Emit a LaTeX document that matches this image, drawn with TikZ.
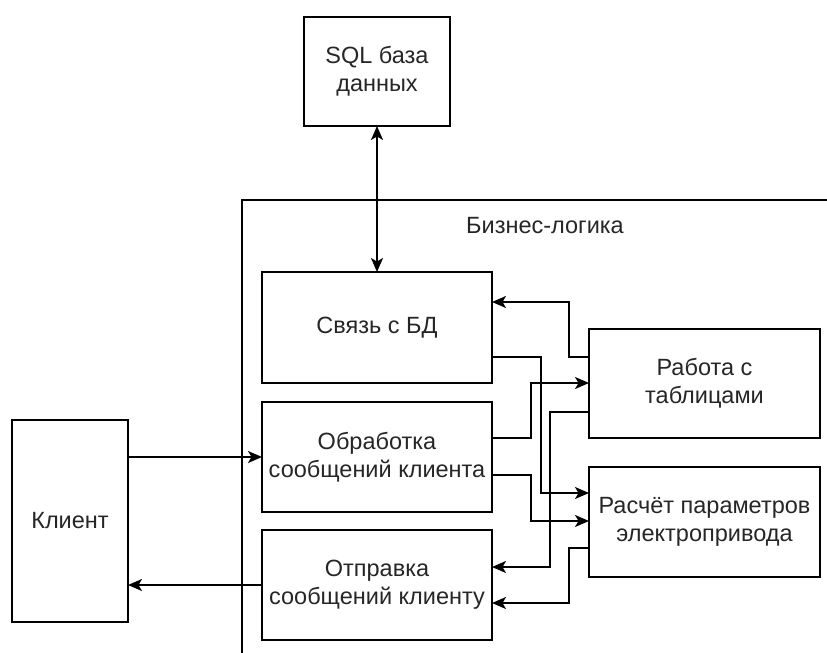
\documentclass[tikz,border=0pt]{standalone}
\usepackage{fontspec}
\setmainfont{Liberation Sans}
\usetikzlibrary{arrows.meta}
\begin{document}
\begin{tikzpicture}[x=1pt,y=-1pt,
  line width=1.6pt,
  every node/.style={font=\fontsize{23.5}{28}\selectfont, text=black!85},
  blk/.style={draw, rectangle, align=center, inner sep=0pt, outer sep=0pt},
  arr/.style={-{Stealth[length=14pt,width=12pt,inset=3.5pt]}},
  darr/.style={{Stealth[length=14pt,width=12pt,inset=3.5pt]}-{Stealth[length=14pt,width=12pt,inset=3.5pt]}}
]
\useasboundingbox (0,0) rectangle (827,653);
% container
\draw (827,200) -- (242,200) -- (242,653);
\node (biz) at (545,226) {Бизнес-логика};

\node[blk, minimum width=146pt, minimum height=109pt] (sql) at (377,71.5) {SQL база\\данных};
\node[blk, minimum width=230pt, minimum height=111pt] (svy) at (377,327.5) {Связь с БД};
\node[blk, minimum width=230pt, minimum height=110pt] (obr) at (377,457) {Обработка\\сообщений клиента};
\node[blk, minimum width=230pt, minimum height=110pt] (otp) at (377,585) {Отправка\\сообщений клиенту};
\node[blk, minimum width=116pt, minimum height=202pt] (kl) at (70,521) {Клиент};
\node[blk, minimum width=231pt, minimum height=109pt] (rab) at (704.5,383.5) {Работа с\\таблицами};
\node[blk, minimum width=231pt, minimum height=110pt] (ras) at (704.5,522) {Расчёт параметров\\электропривода};

\draw[darr] (sql.south) -- (svy.north);
\draw[arr] (kl.east |- obr.west) -- (obr.west);
\draw[arr] (otp.west) -- (kl.east |- otp.west);

\draw[arr] (rab.west |- 0,357) -- (569,357) -- (569,302) -- (svy.east |- 0,302);
\draw[arr] (svy.east |- 0,357) -- (541,357) -- (541,493) -- (ras.west |- 0,493);
\draw[arr] (obr.east |- 0,438) -- (531,438) -- (531,383) -- (rab.west |- 0,383);
\draw[arr] (obr.east |- 0,475) -- (531,475) -- (531,521) -- (ras.west |- 0,521);
\draw[arr] (rab.west |- 0,412) -- (550,412) -- (550,567) -- (otp.east |- 0,567);
\draw[arr] (ras.west |- 0,548) -- (569,548) -- (569,603) -- (otp.east |- 0,603);
\end{tikzpicture}
\end{document}
